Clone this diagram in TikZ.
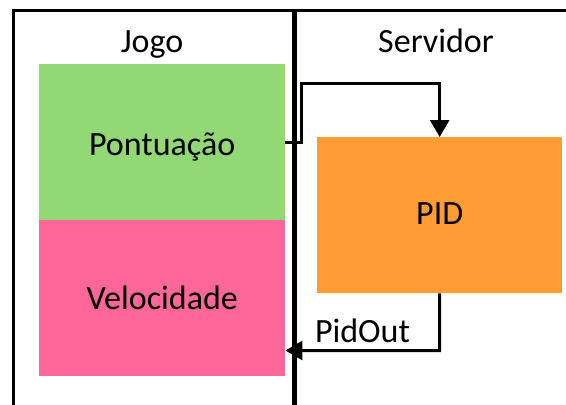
\documentclass[tikz,border=0pt]{standalone}
\usepackage{fontspec}
\setmainfont{Carlito}
\usetikzlibrary{arrows.meta}
\definecolor{cgreen}{HTML}{92D975}
\definecolor{cpink}{HTML}{FF6699}
\definecolor{corange}{HTML}{FF9C33}
\tikzset{
  box/.style={anchor=north west, inner sep=0pt, minimum width=246pt, minimum height=156pt, text depth=0pt, font=\fontsize{34}{40}\selectfont},
  title/.style={font=\fontsize{34}{40}\selectfont, inner sep=0pt, anchor=base},
  frame/.style={line width=3pt},
  arr/.style={line width=3pt, -{Triangle[length=17pt,width=19pt]}}
}
\begin{document}
\begin{tikzpicture}[x=1pt,y=-1pt]
\useasboundingbox (0,0) rectangle (566,405);
\fill[white] (0,0) rectangle (566,405);
% frame
\draw[frame] (13,410) -- (13,10) -- (570,10);
\draw[line width=4.5pt] (294.5,10) -- (294.5,410);
% titles
\node[title] (jogo) at (152,52) {Jogo};
\node[title] (serv) at (436,52) {Servidor};
% boxes
\node[box, fill=cgreen, text height=26pt] (green) at (39,64) {Pontuação};
\node[box, fill=cpink, text height=22.6pt] (pink) at (39,220) {Velocidade};
\node[box, fill=corange, minimum width=245pt, text height=18.6pt] (pid) at (317,137) {PID};
% arrows
\coordinate (k1) at (301,83);
\draw[arr] (green.east) -- (k1|-green.east) -- (k1) -| (pid.north);
\coordinate (k2) at (439.5,350.5);
\draw[arr] (pid.south) -- (k2) -- (pink.east|-k2);
\node[title] (pidout) at (362.5,342) {PidOut};
\end{tikzpicture}
\end{document}
